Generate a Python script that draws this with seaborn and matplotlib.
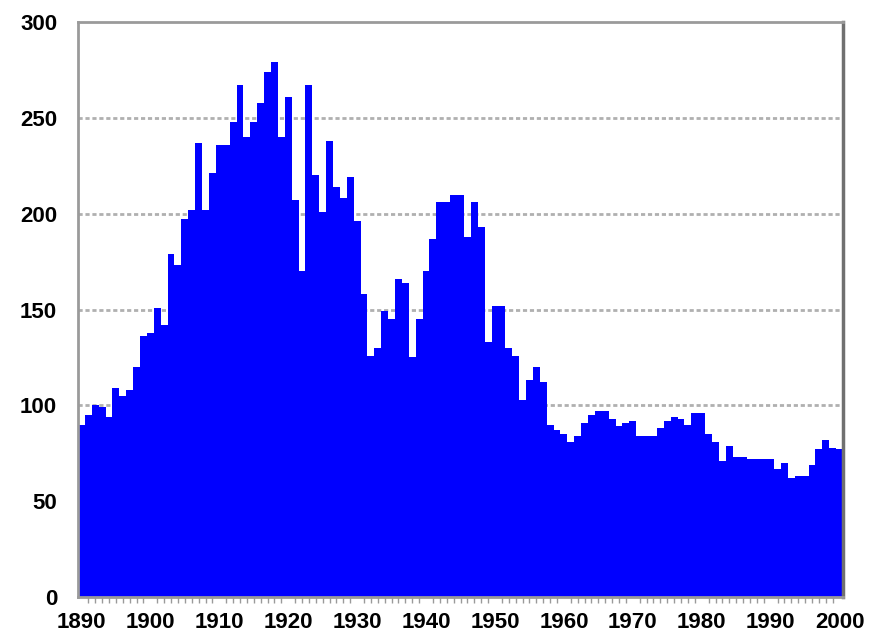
"""Annual counts 1890-2000 drawn as an Excel-style blue column chart."""

from __future__ import annotations

import matplotlib

matplotlib.use("Agg")

import matplotlib.pyplot as plt
import numpy as np
import pandas as pd
import seaborn as sns
from matplotlib.ticker import FixedLocator, MultipleLocator


years = list(range(1890, 2001))
counts = [
    90, 95, 100, 99, 94, 109, 105, 108, 120, 136,
    138, 151, 142, 179, 173, 197, 202, 237, 202, 221,
    236, 236, 248, 267, 240, 248, 258, 274, 279, 240,
    261, 207, 170, 267, 220, 201, 238, 214, 208, 219,
    196, 158, 126, 130, 149, 145, 166, 164, 125, 145,
    170, 187, 206, 206, 210, 210, 188, 206, 193, 133,
    152, 152, 130, 126, 103, 113, 120, 112, 90, 87,
    85, 81, 84, 91, 95, 97, 97, 93, 89, 91,
    92, 84, 84, 84, 88, 92, 94, 93, 90, 96,
    96, 85, 81, 71, 79, 73, 73, 72, 72, 72,
    72, 67, 70, 62, 63, 63, 69, 77, 82, 78,
    77,
]
decade_labels = [str(y) for y in range(1890, 2001, 10)]
y_ticks = [0, 50, 100, 150, 200, 250, 300]

BAR_BLUE = "#0000FF"
FRAME_GREY = "#9a9a9a"


def main() -> None:
    sns.set_theme(style="white")
    plt.rcParams["font.family"] = ["Liberation Sans", "DejaVu Sans"]

    df = pd.DataFrame({"year": years, "count": counts})

    fig = plt.figure(figsize=(8.71, 6.39), dpi=100)
    ax = fig.add_axes([78 / 871, 42 / 639, 765 / 871, 575 / 639])

    sns.barplot(data=df, x="year", y="count", color=BAR_BLUE, width=1.0,
                saturation=1, edgecolor="none", linewidth=0, ax=ax)

    ax.set_xlim(-0.5, len(years) - 0.5)
    ax.set_ylim(0, 300)

    # gridlines only between the frame lines
    for val in y_ticks[1:-1]:
        ax.axhline(val, color="#b0b0b0", linewidth=2, linestyle=(0, (1.5, 1)), zorder=0)

    decade_pos = [years.index(int(lbl)) for lbl in decade_labels]
    ax.xaxis.set_major_locator(FixedLocator(decade_pos))
    ax.set_xticklabels(decade_labels)
    ax.xaxis.set_minor_locator(MultipleLocator(1))
    ax.set_yticks(y_ticks)

    ax.set_xlabel("")
    ax.set_ylabel("")

    for side in ["left", "top", "bottom"]:
        ax.spines[side].set_color(FRAME_GREY)
        ax.spines[side].set_linewidth(2)
    ax.spines["right"].set_color("#707070")
    ax.spines["right"].set_linewidth(2.5)

    ax.tick_params(axis="y", which="major", direction="out", length=7, width=2,
                   color=FRAME_GREY, labelsize=16, pad=8)
    ax.tick_params(axis="x", which="major", direction="out", length=8, width=1.5,
                   color=FRAME_GREY, labelsize=16, pad=3)
    ax.tick_params(axis="x", which="minor", direction="out", length=4, width=1,
                   color=FRAME_GREY, bottom=True)
    for lbl in ax.get_xticklabels() + ax.get_yticklabels():
        lbl.set_fontweight("bold")
        lbl.set_color("black")

    fig.savefig("out.png", dpi=100)
    plt.close(fig)


if __name__ == "__main__":
    main()
